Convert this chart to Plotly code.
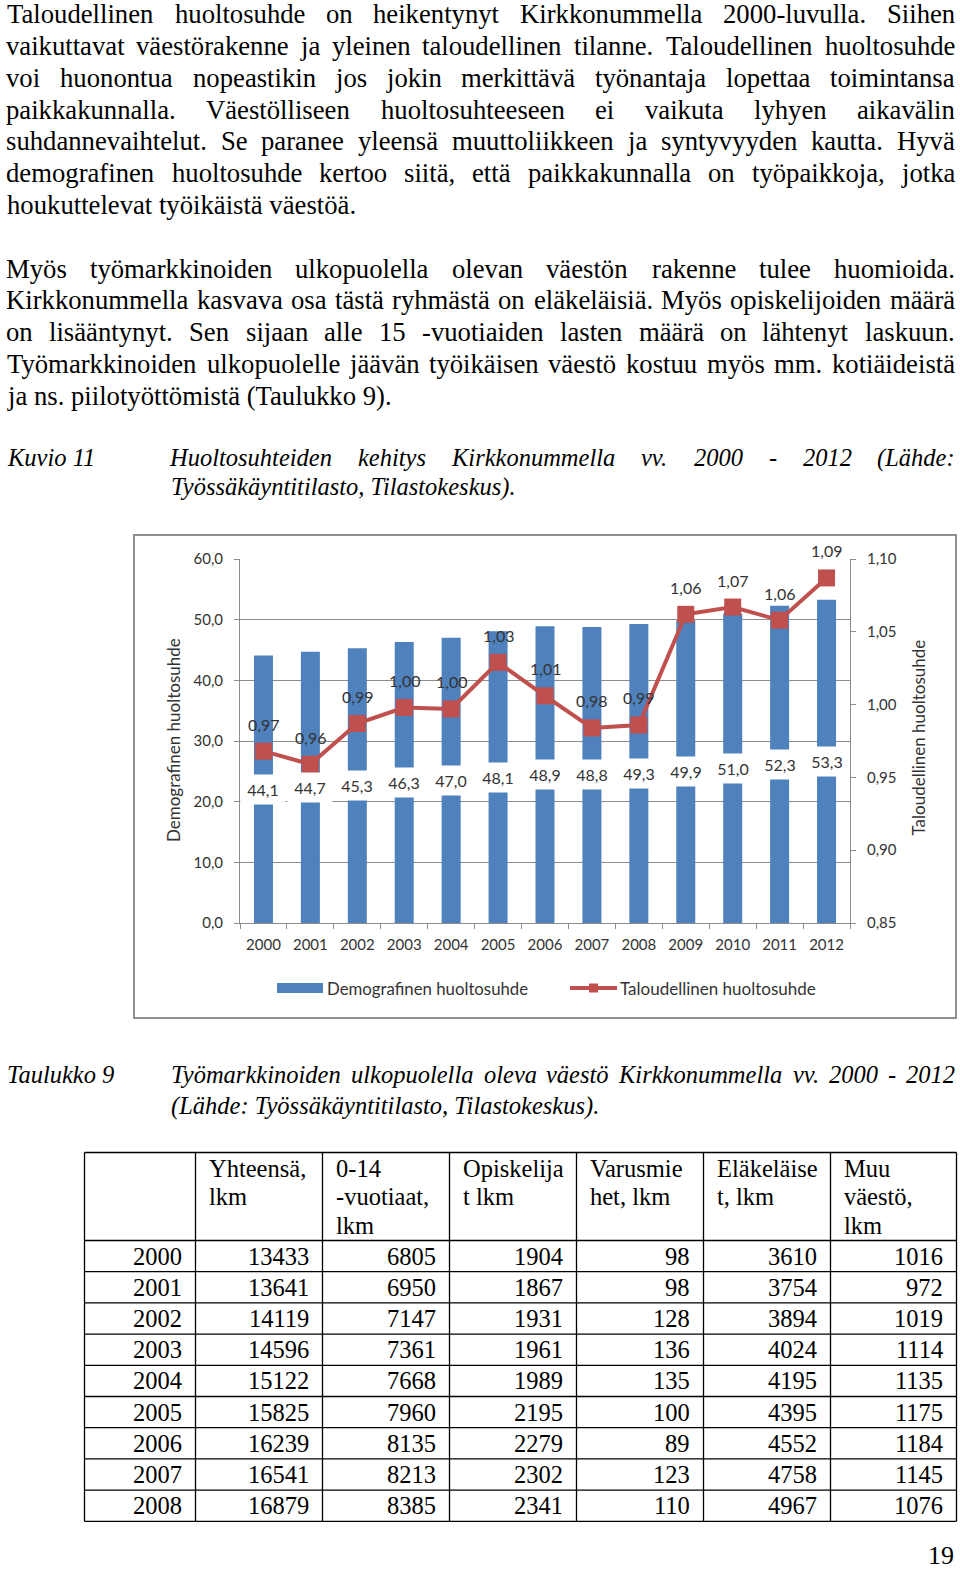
import plotly.graph_objects as go

W, H = 960, 1571

# ---------------- data ----------------
years = ['2000', '2001', '2002', '2003', '2004', '2005', '2006',
         '2007', '2008', '2009', '2010', '2011', '2012']
demografinen = [44.1, 44.7, 45.3, 46.3, 47.0, 48.1, 48.9, 48.8, 49.3, 49.9, 51.0, 52.3, 53.3]
taloudellinen = [0.968, 0.959, 0.987, 0.998, 0.997, 1.029, 1.006, 0.984, 0.986,
                 1.062, 1.067, 1.058, 1.087]
left_ticks = [0, 10, 20, 30, 40, 50, 60]
right_ticks = [0.85, 0.90, 0.95, 1.00, 1.05, 1.10]

table_years = ['2000', '2001', '2002', '2003', '2004', '2005', '2006', '2007', '2008']
yhteensa = [13433, 13641, 14119, 14596, 15122, 15825, 16239, 16541, 16879]
vuotiaat_0_14 = [6805, 6950, 7147, 7361, 7668, 7960, 8135, 8213, 8385]
opiskelijat = [1904, 1867, 1931, 1961, 1989, 2195, 2279, 2302, 2341]
varusmiehet = [98, 98, 128, 136, 135, 100, 89, 123, 110]
elakelaiset = [3610, 3754, 3894, 4024, 4195, 4395, 4552, 4758, 4967]
muu_vaesto = [1016, 972, 1019, 1114, 1135, 1175, 1184, 1145, 1076]
table_headers = [
    ['Yhteensä,', 'lkm'],
    ['0-14', '-vuotiaat,', 'lkm'],
    ['Opiskelija', 't lkm'],
    ['Varusmie', 'het, lkm'],
    ['Eläkeläise', 't, lkm'],
    ['Muu', 'väestö,', 'lkm'],
]

para1 = [
    'Taloudellinen huoltosuhde on heikentynyt Kirkkonummella 2000-luvulla. Siihen',
    'vaikuttavat väestörakenne ja yleinen taloudellinen tilanne. Taloudellinen huoltosuhde',
    'voi huonontua nopeastikin jos jokin merkittävä työnantaja lopettaa toimintansa',
    'paikkakunnalla. Väestölliseen huoltosuhteeseen ei vaikuta lyhyen aikavälin',
    'suhdannevaihtelut. Se paranee yleensä muuttoliikkeen ja syntyvyyden kautta. Hyvä',
    'demografinen huoltosuhde kertoo siitä, että paikkakunnalla on työpaikkoja, jotka',
    'houkuttelevat työikäistä väestöä.',
]
para2 = [
    'Myös työmarkkinoiden ulkopuolella olevan väestön rakenne tulee huomioida.',
    'Kirkkonummella kasvava osa tästä ryhmästä on eläkeläisiä. Myös opiskelijoiden määrä',
    'on lisääntynyt. Sen sijaan alle 15 -vuotiaiden lasten määrä on lähtenyt laskuun.',
    'Työmarkkinoiden ulkopuolelle jäävän työikäisen väestö kostuu myös mm. kotiäideistä',
    'ja ns. piilotyöttömistä (Taulukko 9).',
]
fig_label = 'Kuvio 11'
fig_caption = ['Huoltosuhteiden kehitys Kirkkonummella vv. 2000 - 2012 (Lähde:',
               'Työssäkäyntitilasto, Tilastokeskus).']
tab_label = 'Taulukko 9'
tab_caption = ['Työmarkkinoiden ulkopuolella oleva väestö Kirkkonummella vv. 2000 - 2012',
               '(Lähde: Työssäkäyntitilasto, Tilastokeskus).']
page_number = '19'

# ---------------- font metrics (Times / Liberation Serif) ----------------
TR = {' ': 250, ',': 250, '.': 250, '-': 333, '(': 333, ')': 333, ':': 278,
      'A': 722, 'B': 667, 'C': 667, 'D': 722, 'E': 611, 'F': 556, 'G': 722, 'H': 722,
      'I': 333, 'J': 389, 'K': 722, 'L': 611, 'M': 889, 'N': 722, 'O': 722, 'P': 556,
      'Q': 722, 'R': 667, 'S': 556, 'T': 611, 'U': 722, 'V': 722, 'W': 944, 'X': 722,
      'Y': 722, 'Z': 611,
      'a': 444, 'b': 500, 'c': 444, 'd': 500, 'e': 444, 'f': 333, 'g': 500, 'h': 500,
      'i': 278, 'j': 278, 'k': 500, 'l': 278, 'm': 778, 'n': 500, 'o': 500, 'p': 500,
      'q': 500, 'r': 333, 's': 389, 't': 278, 'u': 500, 'v': 500, 'w': 722, 'x': 500,
      'y': 500, 'z': 444, 'ä': 444, 'ö': 500, 'Ä': 722, 'Ö': 722}
TI = {' ': 250, ',': 250, '.': 250, '-': 333, '(': 333, ')': 333, ':': 333,
      'A': 611, 'B': 611, 'C': 667, 'D': 722, 'E': 611, 'F': 611, 'G': 722, 'H': 722,
      'I': 333, 'J': 444, 'K': 667, 'L': 556, 'M': 833, 'N': 667, 'O': 722, 'P': 611,
      'Q': 722, 'R': 611, 'S': 500, 'T': 556, 'U': 722, 'V': 611, 'W': 833, 'X': 611,
      'Y': 556, 'Z': 556,
      'a': 500, 'b': 500, 'c': 444, 'd': 500, 'e': 444, 'f': 278, 'g': 500, 'h': 500,
      'i': 278, 'j': 278, 'k': 444, 'l': 278, 'm': 722, 'n': 500, 'o': 500, 'p': 500,
      'q': 500, 'r': 389, 's': 389, 't': 278, 'u': 500, 'v': 444, 'w': 667, 'x': 444,
      'y': 444, 'z': 389, 'ä': 500, 'ö': 500, 'Ä': 611, 'Ö': 722}


def text_w(s, fs, italic=False):
    tbl = TI if italic else TR
    return sum(tbl.get(ch, 500) for ch in s) * fs / 1000.0


def px(x):
    return x / W


def py(y):
    return 1 - y / H


annotations = []
shapes = []
SERIF = 'Liberation Serif'
BODY_FS = 26.7
SMALL_FS = 24.5


def ann_text(text, x, y, fs, anchor='left', italic=False, family=SERIF, color='black'):
    font = dict(family=family, size=fs, color=color)
    if italic:
        font['style'] = 'italic'
    annotations.append(dict(text=text, x=px(x), y=py(y), xref='paper', yref='paper',
                            xanchor=anchor, yanchor='middle', showarrow=False,
                            borderpad=0, font=font))


def add_line(text, y, xl, xr, fs, italic=False, justify=True):
    words = text.split(' ')
    if not justify or len(words) == 1:
        ann_text(text, xl, y, fs, 'left', italic)
        return
    ws = [text_w(w, fs, italic) for w in words]
    gap = (xr - xl - sum(ws)) / (len(words) - 1)
    x = xl
    for w, wd in zip(words, ws):
        ann_text(w, x + wd / 2, y, fs, 'center', italic)
        x += wd + gap


XL, XR = 6, 955
LINE = 31.85
for i, line in enumerate(para1):
    add_line(line, 14 + i * LINE, XL, XR, BODY_FS, justify=(i < len(para1) - 1))
for i, line in enumerate(para2):
    add_line(line, 268.5 + i * LINE, XL, XR, BODY_FS, justify=(i < len(para2) - 1))

# captions
ann_text(fig_label, XL, 458, SMALL_FS, 'left', italic=True)
add_line(fig_caption[0], 458, 170, XR, SMALL_FS, italic=True, justify=True)
add_line(fig_caption[1], 487, 170, XR, SMALL_FS, italic=True, justify=False)
ann_text(tab_label, XL, 1074, SMALL_FS, 'left', italic=True)
add_line(tab_caption[0], 1074, 170, XR, SMALL_FS, italic=True, justify=True)
add_line(tab_caption[1], 1106, 170, XR, SMALL_FS, italic=True, justify=False)
ann_text(page_number, 955, 1555, 26, 'right')

# ---------------- table ----------------
col_edges = [84.5, 195.5, 322.5, 449.5, 576.5, 703.5, 830.5, 956.5]
tab_top, head_bottom, row_h = 1152.5, 1240.5, 31.2
n_rows = len(table_years)
tab_bottom = head_bottom + n_rows * row_h
row_edges = [tab_top, head_bottom] + [head_bottom + (k + 1) * row_h for k in range(n_rows)]
for ye in row_edges:
    shapes.append(dict(type='line', xref='paper', yref='paper', x0=px(col_edges[0]), x1=px(col_edges[-1]),
                       y0=py(ye), y1=py(ye), line=dict(color='black', width=1.3)))
for xe in col_edges:
    shapes.append(dict(type='line', xref='paper', yref='paper', x0=px(xe), x1=px(xe),
                       y0=py(tab_top), y1=py(tab_bottom), line=dict(color='black', width=1.3)))
for c, lines in enumerate(table_headers):
    for k, t in enumerate(lines):
        ann_text(t, col_edges[c + 1] + 12, tab_top + 16 + k * 28.3, SMALL_FS, 'left')
columns = [table_years, yhteensa, vuotiaat_0_14, opiskelijat, varusmiehet, elakelaiset, muu_vaesto]
for c, col in enumerate(columns):
    for r, v in enumerate(col):
        ann_text(str(v), col_edges[c + 1] - 12.5, head_bottom + (r + 0.5) * row_h, SMALL_FS, 'right')

# ---------------- chart ----------------
BLUE = '#4F81BD'
RED = '#C0504D'
AX = '#8C8C8C'
TXT = '#333333'
SANS = 'Lato'


def fmt(v, d):
    return f'{v:.{d}f}'.replace('.', ',')


fig = go.Figure()
fig.add_trace(go.Bar(x=years, y=demografinen, marker=dict(color=BLUE, line=dict(width=0)),
                     name='Demografinen huoltosuhde', yaxis='y', hoverinfo='skip'))
fig.add_trace(go.Scatter(x=years, y=taloudellinen, name='Taloudellinen huoltosuhde', yaxis='y2',
                         mode='lines+markers', line=dict(color=RED, width=4),
                         marker=dict(symbol='square', size=17, color=RED), hoverinfo='skip'))

# data labels (category index positions on the category axis)
for i, v in enumerate(demografinen):
    annotations.append(dict(text=fmt(v, 1), x=i, y=v / 2, xref='x', yref='y', showarrow=False,
                            bgcolor='white', width=44, height=29, borderpad=0,
                            xanchor='center', yanchor='middle',
                            font=dict(family=SANS, size=16, color=TXT)))
for i, v in enumerate(taloudellinen):
    annotations.append(dict(text=fmt(v, 2), x=i, y=v, xref='x', yref='y2', showarrow=False,
                            yshift=27, xanchor='center', yanchor='middle',
                            font=dict(family=SANS, size=16, color=TXT)))

# axis titles
annotations.append(dict(text='Demografinen huoltosuhde', x=px(173), y=py(740), xref='paper', yref='paper',
                        textangle=-90, showarrow=False, xanchor='center', yanchor='middle',
                        font=dict(family=SANS, size=17, color=TXT)))
annotations.append(dict(text='Taloudellinen huoltosuhde', x=px(917.5), y=py(738), xref='paper', yref='paper',
                        textangle=-90, showarrow=False, xanchor='center', yanchor='middle',
                        font=dict(family=SANS, size=17, color=TXT)))

# legend (drawn manually)
shapes.append(dict(type='rect', xref='paper', yref='paper', x0=px(277), x1=px(323), y0=py(983), y1=py(993),
                   fillcolor=BLUE, line=dict(width=0)))
annotations.append(dict(text='Demografinen huoltosuhde', x=px(326), y=py(988.5), xref='paper', yref='paper',
                        showarrow=False, xanchor='left', yanchor='middle', borderpad=0,
                        font=dict(family=SANS, size=16.8, color=TXT)))
shapes.append(dict(type='line', xref='paper', yref='paper', x0=px(570), x1=px(617), y0=py(988), y1=py(988),
                   line=dict(color=RED, width=4)))
shapes.append(dict(type='rect', xref='paper', yref='paper', x0=px(589), x1=px(598), y0=py(983.5), y1=py(992.5),
                   fillcolor=RED, line=dict(width=0)))
annotations.append(dict(text='Taloudellinen huoltosuhde', x=px(619), y=py(988.5), xref='paper', yref='paper',
                        showarrow=False, xanchor='left', yanchor='middle', borderpad=0,
                        font=dict(family=SANS, size=17, color=TXT)))

# chart frame
shapes.append(dict(type='rect', xref='paper', yref='paper', x0=px(134), x1=px(956), y0=py(535), y1=py(1018),
                   line=dict(color='#8F8F8F', width=2), fillcolor='rgba(0,0,0,0)', layer='below'))

fig.update_layout(
    width=W, height=H, margin=dict(l=0, r=0, t=0, b=0, autoexpand=False),
    paper_bgcolor='white', plot_bgcolor='white', separators=', ',
    bargap=0.595, showlegend=False,
    xaxis=dict(domain=[px(240), px(850)], type='category', range=[-0.5, len(years) - 0.5],
               showline=True, linecolor=AX, linewidth=1, automargin=False,
               ticks='outside', tickson='boundaries', ticklen=5, tickcolor=AX, showgrid=False,
               tickfont=dict(family=SANS, size=15, color=TXT), ticklabelstandoff=8, fixedrange=True),
    yaxis=dict(domain=[1 - 923 / H, 1 - 559 / H], range=[0, 60], tickvals=left_ticks, tickformat='.1f',
               showline=True, linecolor=AX, linewidth=1, ticks='outside', ticklen=5, tickcolor=AX,
               gridcolor=AX, gridwidth=1, zeroline=False, ticklabelstandoff=8, automargin=False,
               tickfont=dict(family=SANS, size=15, color=TXT), fixedrange=True),
    yaxis2=dict(overlaying='y', side='right', anchor='x', range=[0.85, 1.10], tickvals=right_ticks,
                tickformat='.2f', showline=True, linecolor=AX, linewidth=1, ticks='outside', ticklen=5,
                tickcolor=AX, showgrid=False, zeroline=False, ticklabelstandoff=8, automargin=False,
                tickfont=dict(family=SANS, size=15, color=TXT), fixedrange=True),
    annotations=annotations, shapes=shapes,
)

fig.write_html('out.html', config={'displayModeBar': False},
               post_script="document.body.style.margin='0';document.body.style.overflow='hidden';")
